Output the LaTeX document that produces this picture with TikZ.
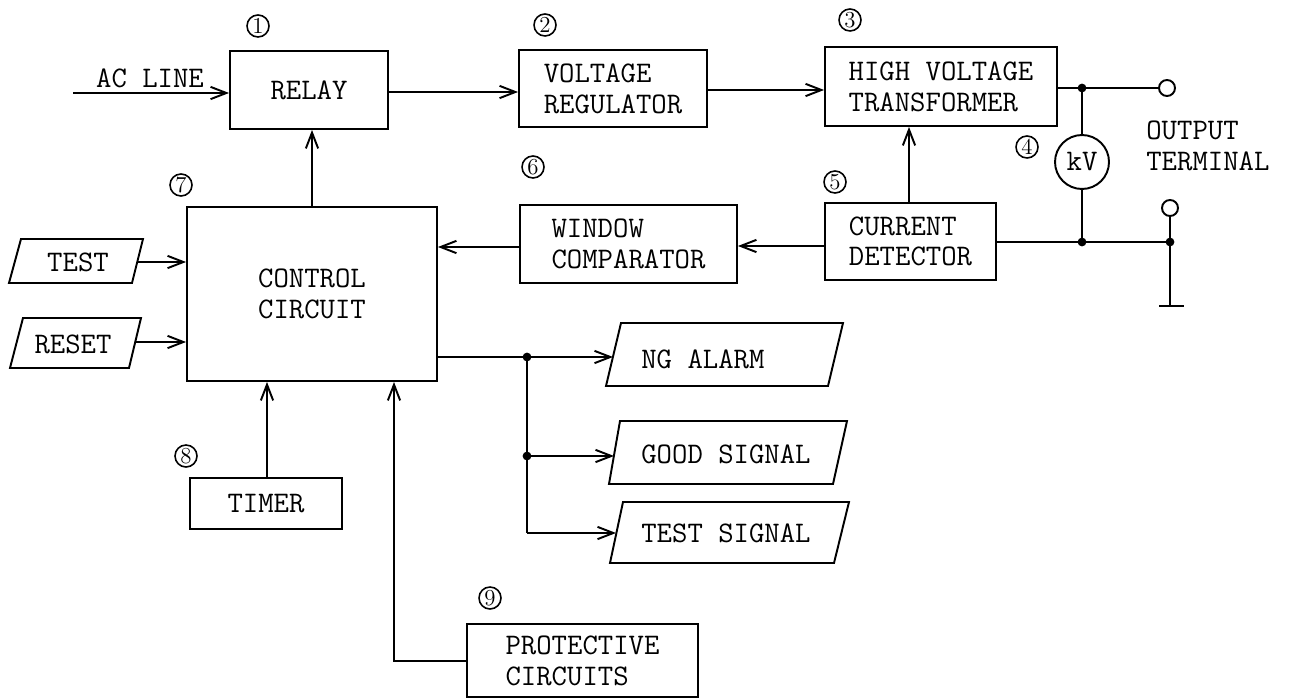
\documentclass[tikz,border=0pt]{standalone}
\usepackage{fontspec}
\usetikzlibrary{arrows.meta,calc}
\newcommand{\tf}{\fontsize{17}{17.5}\selectfont\ttfamily}
\tikzset{
  ln/.style={line width=1.1pt},
  arr/.style={ln,-{Straight Barb[length=9pt,width=7pt,line width=1.1pt]}},
  blk/.style={draw,ln,inner sep=0pt,font=\tf,align=left},
  txt/.style={inner sep=0pt,font=\tf,align=left},
  num/.style={circle,draw,line width=0.9pt,inner sep=0pt,minimum size=0.44cm,font=\fontsize{13}{13}\selectfont},
  dot/.style={circle,fill,inner sep=0pt,minimum size=5pt},
  term/.style={circle,draw,ln,inner sep=0pt,minimum size=0.32cm}
}
\begin{document}
\begin{tikzpicture}[x=0.02cm,y=-0.02cm]
\useasboundingbox (0,0) rectangle (1291,699);
% blocks
\node[blk,minimum width=3.16cm,minimum height=1.56cm] (relay) at (309,90) {RELAY};
\node[blk,minimum width=3.76cm,minimum height=1.54cm] (vr) at (613,88.5) {VOLTAGE\\REGULATOR};
\node[blk,minimum width=4.64cm,minimum height=1.58cm] (hvt) at (941,86.5) {HIGH VOLTAGE\\TRANSFORMER};
\node[blk,minimum width=5.0cm,minimum height=3.48cm,align=center] (ctrl) at (312,294) {CONTROL\\CIRCUIT};
\node[blk,minimum width=4.34cm,minimum height=1.56cm] (wc) at (628.5,244) {WINDOW\\COMPARATOR};
\node[blk,minimum width=3.42cm,minimum height=1.54cm] (cd) at (910.5,241.5) {CURRENT\\DETECTOR};
\node[blk,minimum width=3.04cm,minimum height=1.02cm] (timer) at (266,503.5) {TIMER};
\node[blk,minimum width=4.62cm,minimum height=1.46cm] (prot) at (582.5,660.5) {PROTECTIVE\\CIRCUITS};
% parallelograms
\draw[ln] (21,239) -- (143,239) -- (132,283) -- (9,283) -- cycle;
\node[txt] (test) at (78,262) {TEST};
\draw[ln] (23,318) -- (141,318) -- (129,368) -- (10,368) -- cycle;
\node[txt] (reset) at (73,344) {RESET};
\draw[ln] (621,323) -- (843,323) -- (828,386) -- (606,386) -- cycle;
\node[txt,anchor=west] (ng) at (641,359) {NG ALARM};
\draw[ln] (620,421) -- (847,421) -- (833,484) -- (609,484) -- cycle;
\node[txt,anchor=west] (good) at (641,454) {GOOD SIGNAL};
\draw[ln] (623,502) -- (849,502) -- (834,563) -- (610,563) -- cycle;
\node[txt,anchor=west] (tsig) at (641,533) {TEST SIGNAL};
% coordinates
\coordinate (acin) at (73,93);
\coordinate (testo) at (137,262);
\coordinate (reseto) at (135,342);
\coordinate (j1) at (1082,88);
\coordinate (j2) at (1082,242);
\coordinate (j3) at (1170,242);
\coordinate (ja) at (527,357);
\coordinate (jb) at (527,456);
\coordinate (jc) at (527,533);
\coordinate (ngin) at (613,357);
\coordinate (goodin) at (614,456);
\coordinate (tsin) at (616,533);
\coordinate (gnd) at (1170,306);
\coordinate (pc) at (394,661);
% labels
\node[txt] (acl) at (150,78) {AC LINE};
\node[txt,anchor=west] (out) at (1146,146) {OUTPUT\\TERMINAL};
% terminals and meter
\node[term] (t1) at (1167,88) {};
\node[term] (t2) at (1170,208) {};
\node[draw,ln,circle,minimum size=1.08cm,inner sep=0pt,font=\tf] (kv) at (1082,162) {kV};
% connectors
\draw[arr] (acin) -- (acin -| relay.west);
\draw[arr] (relay.east |- 0,92) -- (vr.west |- 0,92);
\draw[arr] (vr.east |- 0,90) -- (hvt.west |- 0,90);
\draw[ln] (hvt.east |- j1) -- (j1) -- (t1);
\draw[ln] (j1) -- (kv) -- (j2);
\draw[ln] (cd.east |- j2) -- (j2) -- (j3);
\draw[ln] (t2) -- (j3) -- (gnd);
\draw[ln] ($(gnd)+(-11,0)$) -- ($(gnd)+(14,0)$);
\draw[arr] (cd.north -| 909,0) -- (hvt.south -| 909,0);
\draw[arr] (cd.west |- 0,246) -- (wc.east |- 0,246);
\draw[arr] (wc.west |- 0,247) -- (ctrl.east |- 0,247);
\draw[arr] (ctrl.north -| 312,0) -- (relay.south -| 312,0);
\draw[arr] (testo) -- (testo -| ctrl.west);
\draw[arr] (reseto) -- (reseto -| ctrl.west);
\draw[ln] (ctrl.east |- ja) -- (ja) -- (jc);
\draw[arr] (ja) -- (ngin);
\draw[arr] (jb) -- (goodin);
\draw[arr] (jc) -- (tsin);
\draw[arr] (timer.north -| 267,0) -- (ctrl.south -| 267,0);
\draw[arr] (prot.west |- pc) -- (pc) -- (pc |- ctrl.south);
% dots
\foreach \p in {j1,j2,j3,ja,jb} \node[dot] at (\p) {};
% circled numbers
\node[num] (n1) at (258,26) {1};
\node[num] (n2) at (545,25) {2};
\node[num] (n3) at (850,20) {3};
\node[num] (n4) at (1027,147) {4};
\node[num] (n5) at (835,182) {5};
\node[num] (n6) at (533,167) {6};
\node[num] (n7) at (181,185) {7};
\node[num] (n8) at (186,456) {8};
\node[num] (n9) at (490,598) {9};
\end{tikzpicture}
\end{document}
